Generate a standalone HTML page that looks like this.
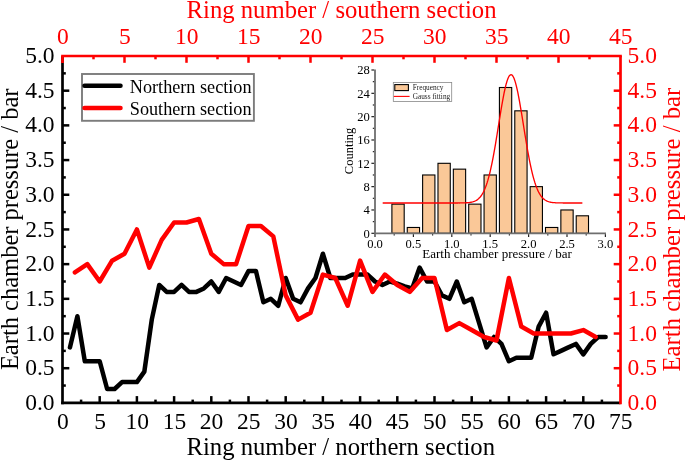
<!DOCTYPE html>
<html><head><meta charset="utf-8"><style>html,body{margin:0;padding:0;background:#fff;}svg{display:block;will-change:transform;font-family:'Liberation Serif',serif;}</style></head>
<body>
<svg width="685" height="460" viewBox="0 0 685 460">
<rect width="685" height="460" fill="#fff"/>
<rect x="391.90" y="204.14" width="12.29" height="29.16" fill="#FAC898" stroke="#000" stroke-width="1.1"/>
<rect x="407.26" y="227.47" width="12.29" height="5.83" fill="#FAC898" stroke="#000" stroke-width="1.1"/>
<rect x="422.62" y="174.98" width="12.29" height="58.32" fill="#FAC898" stroke="#000" stroke-width="1.1"/>
<rect x="437.98" y="163.31" width="12.29" height="69.99" fill="#FAC898" stroke="#000" stroke-width="1.1"/>
<rect x="453.34" y="169.15" width="12.29" height="64.15" fill="#FAC898" stroke="#000" stroke-width="1.1"/>
<rect x="468.70" y="204.14" width="12.29" height="29.16" fill="#FAC898" stroke="#000" stroke-width="1.1"/>
<rect x="484.06" y="174.98" width="12.29" height="58.32" fill="#FAC898" stroke="#000" stroke-width="1.1"/>
<rect x="499.42" y="87.50" width="12.29" height="145.80" fill="#FAC898" stroke="#000" stroke-width="1.1"/>
<rect x="514.78" y="110.83" width="12.29" height="122.48" fill="#FAC898" stroke="#000" stroke-width="1.1"/>
<rect x="530.14" y="186.64" width="12.29" height="46.66" fill="#FAC898" stroke="#000" stroke-width="1.1"/>
<rect x="545.50" y="227.47" width="12.29" height="5.83" fill="#FAC898" stroke="#000" stroke-width="1.1"/>
<rect x="560.86" y="209.97" width="12.29" height="23.33" fill="#FAC898" stroke="#000" stroke-width="1.1"/>
<rect x="576.22" y="215.80" width="12.29" height="17.50" fill="#FAC898" stroke="#000" stroke-width="1.1"/>
<polyline points="382.68,202.97 383.45,202.97 384.22,202.97 384.98,202.97 385.75,202.97 386.52,202.97 387.29,202.97 388.06,202.97 388.82,202.97 389.59,202.97 390.36,202.97 391.13,202.97 391.90,202.97 392.66,202.97 393.43,202.97 394.20,202.97 394.97,202.97 395.74,202.97 396.50,202.97 397.27,202.97 398.04,202.97 398.81,202.97 399.58,202.97 400.34,202.97 401.11,202.97 401.88,202.97 402.65,202.97 403.42,202.97 404.18,202.97 404.95,202.97 405.72,202.97 406.49,202.97 407.26,202.97 408.02,202.97 408.79,202.97 409.56,202.97 410.33,202.97 411.10,202.97 411.86,202.97 412.63,202.97 413.40,202.97 414.17,202.97 414.94,202.97 415.70,202.97 416.47,202.97 417.24,202.97 418.01,202.97 418.78,202.97 419.54,202.97 420.31,202.97 421.08,202.97 421.85,202.97 422.62,202.97 423.38,202.97 424.15,202.97 424.92,202.97 425.69,202.97 426.46,202.97 427.22,202.97 427.99,202.97 428.76,202.97 429.53,202.97 430.30,202.97 431.06,202.97 431.83,202.97 432.60,202.97 433.37,202.97 434.14,202.97 434.90,202.97 435.67,202.97 436.44,202.97 437.21,202.97 437.98,202.97 438.74,202.97 439.51,202.97 440.28,202.97 441.05,202.97 441.82,202.97 442.58,202.97 443.35,202.97 444.12,202.97 444.89,202.97 445.66,202.97 446.42,202.97 447.19,202.97 447.96,202.97 448.73,202.97 449.50,202.97 450.26,202.97 451.03,202.97 451.80,202.97 452.57,202.97 453.34,202.97 454.10,202.97 454.87,202.97 455.64,202.97 456.41,202.96 457.18,202.96 457.94,202.96 458.71,202.95 459.48,202.95 460.25,202.94 461.02,202.93 461.78,202.92 462.55,202.91 463.32,202.89 464.09,202.87 464.86,202.84 465.62,202.81 466.39,202.77 467.16,202.72 467.93,202.65 468.70,202.58 469.46,202.49 470.23,202.38 471.00,202.24 471.77,202.09 472.54,201.90 473.30,201.67 474.07,201.41 474.84,201.10 475.61,200.74 476.38,200.31 477.14,199.82 477.91,199.25 478.68,198.59 479.45,197.84 480.22,196.98 480.98,196.00 481.75,194.90 482.52,193.65 483.29,192.26 484.06,190.70 484.82,188.97 485.59,187.06 486.36,184.96 487.13,182.65 487.90,180.14 488.66,177.41 489.43,174.47 490.20,171.31 490.97,167.93 491.74,164.34 492.50,160.54 493.27,156.55 494.04,152.37 494.81,148.03 495.58,143.55 496.34,138.94 497.11,134.24 497.88,129.47 498.65,124.67 499.42,119.87 500.18,115.12 500.95,110.45 501.72,105.90 502.49,101.51 503.26,97.33 504.02,93.39 504.79,89.74 505.56,86.42 506.33,83.45 507.10,80.87 507.86,78.71 508.63,76.99 509.40,75.74 510.17,74.96 510.94,74.67 511.70,74.86 512.47,75.55 513.24,76.71 514.01,78.33 514.78,80.40 515.54,82.90 516.31,85.79 517.08,89.05 517.85,92.64 518.62,96.52 519.38,100.66 520.15,105.01 520.92,109.53 521.69,114.18 522.46,118.92 523.22,123.71 523.99,128.51 524.76,133.29 525.53,138.01 526.30,142.64 527.06,147.15 527.83,151.52 528.60,155.73 529.37,159.76 530.14,163.60 530.90,167.23 531.67,170.65 532.44,173.85 533.21,176.84 533.98,179.61 534.74,182.17 535.51,184.51 536.28,186.66 537.05,188.61 537.82,190.37 538.58,191.96 539.35,193.39 540.12,194.66 540.89,195.79 541.66,196.79 542.42,197.67 543.19,198.45 543.96,199.12 544.73,199.71 545.50,200.22 546.26,200.66 547.03,201.03 547.80,201.35 548.57,201.62 549.34,201.86 550.10,202.05 550.87,202.22 551.64,202.35 552.41,202.47 553.18,202.56 553.94,202.64 554.71,202.70 555.48,202.76 556.25,202.80 557.02,202.83 557.78,202.86 558.55,202.89 559.32,202.90 560.09,202.92 560.86,202.93 561.62,202.94 562.39,202.95 563.16,202.95 563.93,202.96 564.70,202.96 565.46,202.96 566.23,202.97 567.00,202.97 567.77,202.97 568.54,202.97 569.30,202.97 570.07,202.97 570.84,202.97 571.61,202.97 572.38,202.97 573.14,202.97 573.91,202.97 574.68,202.97 575.45,202.97 576.22,202.97 576.98,202.97 577.75,202.97 578.52,202.97 579.29,202.97 580.06,202.97 580.82,202.97 581.59,202.97 582.36,202.97" fill="none" stroke="#f00" stroke-width="1.35"/>
<line x1="375.00" y1="69.40" x2="375.00" y2="234.20" stroke="#6e6e6e" stroke-width="1.8"/>
<line x1="374.10" y1="233.30" x2="606.00" y2="233.30" stroke="#6e6e6e" stroke-width="1.8"/>
<line x1="371.40" y1="233.30" x2="374.10" y2="233.30" stroke="#222" stroke-width="1.2"/>
<text x="369.80" y="237.60" font-size="12.6" text-anchor="end">0</text>
<line x1="372.80" y1="221.64" x2="374.10" y2="221.64" stroke="#222" stroke-width="1.2"/>
<line x1="371.40" y1="209.97" x2="374.10" y2="209.97" stroke="#222" stroke-width="1.2"/>
<text x="369.80" y="214.27" font-size="12.6" text-anchor="end">4</text>
<line x1="372.80" y1="198.31" x2="374.10" y2="198.31" stroke="#222" stroke-width="1.2"/>
<line x1="371.40" y1="186.64" x2="374.10" y2="186.64" stroke="#222" stroke-width="1.2"/>
<text x="369.80" y="190.94" font-size="12.6" text-anchor="end">8</text>
<line x1="372.80" y1="174.98" x2="374.10" y2="174.98" stroke="#222" stroke-width="1.2"/>
<line x1="371.40" y1="163.31" x2="374.10" y2="163.31" stroke="#222" stroke-width="1.2"/>
<text x="369.80" y="167.61" font-size="12.6" text-anchor="end">12</text>
<line x1="372.80" y1="151.65" x2="374.10" y2="151.65" stroke="#222" stroke-width="1.2"/>
<line x1="371.40" y1="139.99" x2="374.10" y2="139.99" stroke="#222" stroke-width="1.2"/>
<text x="369.80" y="144.29" font-size="12.6" text-anchor="end">16</text>
<line x1="372.80" y1="128.32" x2="374.10" y2="128.32" stroke="#222" stroke-width="1.2"/>
<line x1="371.40" y1="116.66" x2="374.10" y2="116.66" stroke="#222" stroke-width="1.2"/>
<text x="369.80" y="120.96" font-size="12.6" text-anchor="end">20</text>
<line x1="372.80" y1="104.99" x2="374.10" y2="104.99" stroke="#222" stroke-width="1.2"/>
<line x1="371.40" y1="93.33" x2="374.10" y2="93.33" stroke="#222" stroke-width="1.2"/>
<text x="369.80" y="97.63" font-size="12.6" text-anchor="end">24</text>
<line x1="372.80" y1="81.66" x2="374.10" y2="81.66" stroke="#222" stroke-width="1.2"/>
<line x1="371.40" y1="70.00" x2="374.10" y2="70.00" stroke="#222" stroke-width="1.2"/>
<text x="369.80" y="74.30" font-size="12.6" text-anchor="end">28</text>
<line x1="375.00" y1="234.20" x2="375.00" y2="236.90" stroke="#222" stroke-width="1.2"/>
<text x="375.00" y="248.0" font-size="12.6" text-anchor="middle">0.0</text>
<line x1="394.20" y1="234.20" x2="394.20" y2="235.50" stroke="#222" stroke-width="1.2"/>
<line x1="413.40" y1="234.20" x2="413.40" y2="236.90" stroke="#222" stroke-width="1.2"/>
<text x="413.40" y="248.0" font-size="12.6" text-anchor="middle">0.5</text>
<line x1="432.60" y1="234.20" x2="432.60" y2="235.50" stroke="#222" stroke-width="1.2"/>
<line x1="451.80" y1="234.20" x2="451.80" y2="236.90" stroke="#222" stroke-width="1.2"/>
<text x="451.80" y="248.0" font-size="12.6" text-anchor="middle">1.0</text>
<line x1="471.00" y1="234.20" x2="471.00" y2="235.50" stroke="#222" stroke-width="1.2"/>
<line x1="490.20" y1="234.20" x2="490.20" y2="236.90" stroke="#222" stroke-width="1.2"/>
<text x="490.20" y="248.0" font-size="12.6" text-anchor="middle">1.5</text>
<line x1="509.40" y1="234.20" x2="509.40" y2="235.50" stroke="#222" stroke-width="1.2"/>
<line x1="528.60" y1="234.20" x2="528.60" y2="236.90" stroke="#222" stroke-width="1.2"/>
<text x="528.60" y="248.0" font-size="12.6" text-anchor="middle">2.0</text>
<line x1="547.80" y1="234.20" x2="547.80" y2="235.50" stroke="#222" stroke-width="1.2"/>
<line x1="567.00" y1="234.20" x2="567.00" y2="236.90" stroke="#222" stroke-width="1.2"/>
<text x="567.00" y="248.0" font-size="12.6" text-anchor="middle">2.5</text>
<line x1="586.20" y1="234.20" x2="586.20" y2="235.50" stroke="#222" stroke-width="1.2"/>
<line x1="605.40" y1="234.20" x2="605.40" y2="236.90" stroke="#222" stroke-width="1.2"/>
<text x="605.40" y="248.0" font-size="12.6" text-anchor="middle">3.0</text>
<text x="422.3" y="257.8" font-size="13">Earth chamber pressure / bar</text>
<text transform="translate(353,150.9) rotate(-90)" font-size="12.5" text-anchor="middle">Counting</text>
<rect x="393.3" y="82.4" width="58.4" height="19.1" fill="#fff" stroke="#888" stroke-width="0.8"/>
<rect x="394.8" y="84.6" width="13.6" height="6" fill="#FAC898" stroke="#000" stroke-width="1.1"/>
<line x1="393.8" y1="96.4" x2="409.6" y2="96.4" stroke="#f00" stroke-width="1.1"/>
<text x="412.7" y="89.9" font-size="7.3" fill="#222">Frequency</text>
<text x="412.7" y="99.0" font-size="7.3" fill="#222">Gauss fitting</text>
<polyline points="69.94,347.40 77.38,316.17 84.82,361.27 92.26,361.27 99.70,361.27 107.14,389.02 114.58,389.02 122.02,382.09 129.46,382.09 136.90,382.09 144.34,371.68 151.78,319.64 159.22,284.95 166.66,291.89 174.10,291.89 181.54,284.95 188.98,291.89 196.42,291.89 203.86,288.42 211.30,281.49 218.74,291.89 226.18,278.02 233.62,281.49 241.06,284.95 248.50,271.08 255.94,271.08 263.38,302.30 270.82,298.83 278.26,305.77 285.70,278.02 293.14,298.83 300.58,302.30 308.02,288.42 315.46,278.02 322.90,253.73 330.34,278.02 337.78,278.02 345.22,278.02 352.66,274.55 360.10,274.55 367.54,274.55 374.98,281.49 382.42,284.95 389.86,281.49 397.30,283.57 404.74,286.34 412.18,288.42 419.62,267.61 427.06,281.49 434.50,281.49 441.94,295.36 449.38,298.83 456.82,281.49 464.26,302.30 471.70,298.83 479.14,323.11 486.58,347.40 494.02,336.99 501.46,343.93 508.90,361.27 516.34,357.80 523.78,357.80 531.22,357.80 538.66,326.58 546.10,312.71 553.54,354.33 560.98,350.87 568.42,347.40 575.86,343.93 583.30,354.33 590.74,343.93 598.18,336.99 605.62,336.99" fill="none" stroke="#000" stroke-width="4.5" stroke-linejoin="round" stroke-linecap="round"/>
<polyline points="74.90,272.47 87.30,264.14 99.70,281.49 112.10,260.67 124.50,253.73 136.90,229.45 149.30,267.61 161.70,239.86 174.10,222.51 186.50,222.51 198.90,219.04 211.30,253.73 223.70,264.14 236.10,264.14 248.50,225.98 260.90,225.98 273.30,236.39 285.70,295.36 298.10,319.64 310.50,312.71 322.90,274.55 335.30,278.02 347.70,305.77 360.10,260.67 372.50,291.89 384.90,274.55 397.30,284.95 409.70,291.89 422.10,278.02 434.50,278.02 446.90,330.05 459.30,323.11 471.70,330.05 484.10,336.99 496.50,340.46 508.90,278.02 521.30,326.58 533.70,333.52 546.10,333.52 558.50,333.52 570.90,333.52 583.30,330.05 595.70,336.99" fill="none" stroke="#f00" stroke-width="4.5" stroke-linejoin="round" stroke-linecap="round"/>
<text x="62.80" y="428.8" font-size="23.5" text-anchor="middle">0</text>
<line x1="81.10" y1="402.90" x2="81.10" y2="399.60" stroke="#000" stroke-width="2.5"/>
<line x1="99.70" y1="402.90" x2="99.70" y2="396.10" stroke="#000" stroke-width="2.5"/>
<text x="100.00" y="428.8" font-size="23.5" text-anchor="middle">5</text>
<line x1="118.30" y1="402.90" x2="118.30" y2="399.60" stroke="#000" stroke-width="2.5"/>
<line x1="136.90" y1="402.90" x2="136.90" y2="396.10" stroke="#000" stroke-width="2.5"/>
<text x="137.20" y="428.8" font-size="23.5" text-anchor="middle">10</text>
<line x1="155.50" y1="402.90" x2="155.50" y2="399.60" stroke="#000" stroke-width="2.5"/>
<line x1="174.10" y1="402.90" x2="174.10" y2="396.10" stroke="#000" stroke-width="2.5"/>
<text x="174.40" y="428.8" font-size="23.5" text-anchor="middle">15</text>
<line x1="192.70" y1="402.90" x2="192.70" y2="399.60" stroke="#000" stroke-width="2.5"/>
<line x1="211.30" y1="402.90" x2="211.30" y2="396.10" stroke="#000" stroke-width="2.5"/>
<text x="211.60" y="428.8" font-size="23.5" text-anchor="middle">20</text>
<line x1="229.90" y1="402.90" x2="229.90" y2="399.60" stroke="#000" stroke-width="2.5"/>
<line x1="248.50" y1="402.90" x2="248.50" y2="396.10" stroke="#000" stroke-width="2.5"/>
<text x="248.80" y="428.8" font-size="23.5" text-anchor="middle">25</text>
<line x1="267.10" y1="402.90" x2="267.10" y2="399.60" stroke="#000" stroke-width="2.5"/>
<line x1="285.70" y1="402.90" x2="285.70" y2="396.10" stroke="#000" stroke-width="2.5"/>
<text x="286.00" y="428.8" font-size="23.5" text-anchor="middle">30</text>
<line x1="304.30" y1="402.90" x2="304.30" y2="399.60" stroke="#000" stroke-width="2.5"/>
<line x1="322.90" y1="402.90" x2="322.90" y2="396.10" stroke="#000" stroke-width="2.5"/>
<text x="323.20" y="428.8" font-size="23.5" text-anchor="middle">35</text>
<line x1="341.50" y1="402.90" x2="341.50" y2="399.60" stroke="#000" stroke-width="2.5"/>
<line x1="360.10" y1="402.90" x2="360.10" y2="396.10" stroke="#000" stroke-width="2.5"/>
<text x="360.40" y="428.8" font-size="23.5" text-anchor="middle">40</text>
<line x1="378.70" y1="402.90" x2="378.70" y2="399.60" stroke="#000" stroke-width="2.5"/>
<line x1="397.30" y1="402.90" x2="397.30" y2="396.10" stroke="#000" stroke-width="2.5"/>
<text x="397.60" y="428.8" font-size="23.5" text-anchor="middle">45</text>
<line x1="415.90" y1="402.90" x2="415.90" y2="399.60" stroke="#000" stroke-width="2.5"/>
<line x1="434.50" y1="402.90" x2="434.50" y2="396.10" stroke="#000" stroke-width="2.5"/>
<text x="434.80" y="428.8" font-size="23.5" text-anchor="middle">50</text>
<line x1="453.10" y1="402.90" x2="453.10" y2="399.60" stroke="#000" stroke-width="2.5"/>
<line x1="471.70" y1="402.90" x2="471.70" y2="396.10" stroke="#000" stroke-width="2.5"/>
<text x="472.00" y="428.8" font-size="23.5" text-anchor="middle">55</text>
<line x1="490.30" y1="402.90" x2="490.30" y2="399.60" stroke="#000" stroke-width="2.5"/>
<line x1="508.90" y1="402.90" x2="508.90" y2="396.10" stroke="#000" stroke-width="2.5"/>
<text x="509.20" y="428.8" font-size="23.5" text-anchor="middle">60</text>
<line x1="527.50" y1="402.90" x2="527.50" y2="399.60" stroke="#000" stroke-width="2.5"/>
<line x1="546.10" y1="402.90" x2="546.10" y2="396.10" stroke="#000" stroke-width="2.5"/>
<text x="546.40" y="428.8" font-size="23.5" text-anchor="middle">65</text>
<line x1="564.70" y1="402.90" x2="564.70" y2="399.60" stroke="#000" stroke-width="2.5"/>
<line x1="583.30" y1="402.90" x2="583.30" y2="396.10" stroke="#000" stroke-width="2.5"/>
<text x="583.60" y="428.8" font-size="23.5" text-anchor="middle">70</text>
<line x1="601.90" y1="402.90" x2="601.90" y2="399.60" stroke="#000" stroke-width="2.5"/>
<text x="620.80" y="428.8" font-size="23.5" text-anchor="middle">75</text>
<text x="62.80" y="44.0" font-size="23.5" text-anchor="middle" fill="#f00">0</text>
<line x1="93.50" y1="56.00" x2="93.50" y2="59.30" stroke="#f00" stroke-width="2.5"/>
<line x1="124.50" y1="56.00" x2="124.50" y2="62.80" stroke="#f00" stroke-width="2.5"/>
<text x="124.80" y="44.0" font-size="23.5" text-anchor="middle" fill="#f00">5</text>
<line x1="155.50" y1="56.00" x2="155.50" y2="59.30" stroke="#f00" stroke-width="2.5"/>
<line x1="186.50" y1="56.00" x2="186.50" y2="62.80" stroke="#f00" stroke-width="2.5"/>
<text x="186.80" y="44.0" font-size="23.5" text-anchor="middle" fill="#f00">10</text>
<line x1="217.50" y1="56.00" x2="217.50" y2="59.30" stroke="#f00" stroke-width="2.5"/>
<line x1="248.50" y1="56.00" x2="248.50" y2="62.80" stroke="#f00" stroke-width="2.5"/>
<text x="248.80" y="44.0" font-size="23.5" text-anchor="middle" fill="#f00">15</text>
<line x1="279.50" y1="56.00" x2="279.50" y2="59.30" stroke="#f00" stroke-width="2.5"/>
<line x1="310.50" y1="56.00" x2="310.50" y2="62.80" stroke="#f00" stroke-width="2.5"/>
<text x="310.80" y="44.0" font-size="23.5" text-anchor="middle" fill="#f00">20</text>
<line x1="341.50" y1="56.00" x2="341.50" y2="59.30" stroke="#f00" stroke-width="2.5"/>
<line x1="372.50" y1="56.00" x2="372.50" y2="62.80" stroke="#f00" stroke-width="2.5"/>
<text x="372.80" y="44.0" font-size="23.5" text-anchor="middle" fill="#f00">25</text>
<line x1="403.50" y1="56.00" x2="403.50" y2="59.30" stroke="#f00" stroke-width="2.5"/>
<line x1="434.50" y1="56.00" x2="434.50" y2="62.80" stroke="#f00" stroke-width="2.5"/>
<text x="434.80" y="44.0" font-size="23.5" text-anchor="middle" fill="#f00">30</text>
<line x1="465.50" y1="56.00" x2="465.50" y2="59.30" stroke="#f00" stroke-width="2.5"/>
<line x1="496.50" y1="56.00" x2="496.50" y2="62.80" stroke="#f00" stroke-width="2.5"/>
<text x="496.80" y="44.0" font-size="23.5" text-anchor="middle" fill="#f00">35</text>
<line x1="527.50" y1="56.00" x2="527.50" y2="59.30" stroke="#f00" stroke-width="2.5"/>
<line x1="558.50" y1="56.00" x2="558.50" y2="62.80" stroke="#f00" stroke-width="2.5"/>
<text x="558.80" y="44.0" font-size="23.5" text-anchor="middle" fill="#f00">40</text>
<line x1="589.50" y1="56.00" x2="589.50" y2="59.30" stroke="#f00" stroke-width="2.5"/>
<text x="620.80" y="44.0" font-size="23.5" text-anchor="middle" fill="#f00">45</text>
<text x="54.6" y="410.00" font-size="23.5" text-anchor="end">0.0</text>
<text x="627.5" y="410.00" font-size="23.5" fill="#f00">0.0</text>
<line x1="62.50" y1="385.55" x2="65.80" y2="385.55" stroke="#000" stroke-width="2.5"/>
<line x1="620.50" y1="385.55" x2="617.20" y2="385.55" stroke="#f00" stroke-width="2.5"/>
<line x1="62.50" y1="368.21" x2="69.30" y2="368.21" stroke="#000" stroke-width="2.5"/>
<line x1="620.50" y1="368.21" x2="613.70" y2="368.21" stroke="#f00" stroke-width="2.5"/>
<text x="54.6" y="375.31" font-size="23.5" text-anchor="end">0.5</text>
<text x="627.5" y="375.31" font-size="23.5" fill="#f00">0.5</text>
<line x1="62.50" y1="350.87" x2="65.80" y2="350.87" stroke="#000" stroke-width="2.5"/>
<line x1="620.50" y1="350.87" x2="617.20" y2="350.87" stroke="#f00" stroke-width="2.5"/>
<line x1="62.50" y1="333.52" x2="69.30" y2="333.52" stroke="#000" stroke-width="2.5"/>
<line x1="620.50" y1="333.52" x2="613.70" y2="333.52" stroke="#f00" stroke-width="2.5"/>
<text x="54.6" y="340.62" font-size="23.5" text-anchor="end">1.0</text>
<text x="627.5" y="340.62" font-size="23.5" fill="#f00">1.0</text>
<line x1="62.50" y1="316.17" x2="65.80" y2="316.17" stroke="#000" stroke-width="2.5"/>
<line x1="620.50" y1="316.17" x2="617.20" y2="316.17" stroke="#f00" stroke-width="2.5"/>
<line x1="62.50" y1="298.83" x2="69.30" y2="298.83" stroke="#000" stroke-width="2.5"/>
<line x1="620.50" y1="298.83" x2="613.70" y2="298.83" stroke="#f00" stroke-width="2.5"/>
<text x="54.6" y="305.93" font-size="23.5" text-anchor="end">1.5</text>
<text x="627.5" y="305.93" font-size="23.5" fill="#f00">1.5</text>
<line x1="62.50" y1="281.49" x2="65.80" y2="281.49" stroke="#000" stroke-width="2.5"/>
<line x1="620.50" y1="281.49" x2="617.20" y2="281.49" stroke="#f00" stroke-width="2.5"/>
<line x1="62.50" y1="264.14" x2="69.30" y2="264.14" stroke="#000" stroke-width="2.5"/>
<line x1="620.50" y1="264.14" x2="613.70" y2="264.14" stroke="#f00" stroke-width="2.5"/>
<text x="54.6" y="271.24" font-size="23.5" text-anchor="end">2.0</text>
<text x="627.5" y="271.24" font-size="23.5" fill="#f00">2.0</text>
<line x1="62.50" y1="246.79" x2="65.80" y2="246.79" stroke="#000" stroke-width="2.5"/>
<line x1="620.50" y1="246.79" x2="617.20" y2="246.79" stroke="#f00" stroke-width="2.5"/>
<line x1="62.50" y1="229.45" x2="69.30" y2="229.45" stroke="#000" stroke-width="2.5"/>
<line x1="620.50" y1="229.45" x2="613.70" y2="229.45" stroke="#f00" stroke-width="2.5"/>
<text x="54.6" y="236.55" font-size="23.5" text-anchor="end">2.5</text>
<text x="627.5" y="236.55" font-size="23.5" fill="#f00">2.5</text>
<line x1="62.50" y1="212.10" x2="65.80" y2="212.10" stroke="#000" stroke-width="2.5"/>
<line x1="620.50" y1="212.10" x2="617.20" y2="212.10" stroke="#f00" stroke-width="2.5"/>
<line x1="62.50" y1="194.76" x2="69.30" y2="194.76" stroke="#000" stroke-width="2.5"/>
<line x1="620.50" y1="194.76" x2="613.70" y2="194.76" stroke="#f00" stroke-width="2.5"/>
<text x="54.6" y="201.86" font-size="23.5" text-anchor="end">3.0</text>
<text x="627.5" y="201.86" font-size="23.5" fill="#f00">3.0</text>
<line x1="62.50" y1="177.41" x2="65.80" y2="177.41" stroke="#000" stroke-width="2.5"/>
<line x1="620.50" y1="177.41" x2="617.20" y2="177.41" stroke="#f00" stroke-width="2.5"/>
<line x1="62.50" y1="160.07" x2="69.30" y2="160.07" stroke="#000" stroke-width="2.5"/>
<line x1="620.50" y1="160.07" x2="613.70" y2="160.07" stroke="#f00" stroke-width="2.5"/>
<text x="54.6" y="167.17" font-size="23.5" text-anchor="end">3.5</text>
<text x="627.5" y="167.17" font-size="23.5" fill="#f00">3.5</text>
<line x1="62.50" y1="142.72" x2="65.80" y2="142.72" stroke="#000" stroke-width="2.5"/>
<line x1="620.50" y1="142.72" x2="617.20" y2="142.72" stroke="#f00" stroke-width="2.5"/>
<line x1="62.50" y1="125.38" x2="69.30" y2="125.38" stroke="#000" stroke-width="2.5"/>
<line x1="620.50" y1="125.38" x2="613.70" y2="125.38" stroke="#f00" stroke-width="2.5"/>
<text x="54.6" y="132.48" font-size="23.5" text-anchor="end">4.0</text>
<text x="627.5" y="132.48" font-size="23.5" fill="#f00">4.0</text>
<line x1="62.50" y1="108.04" x2="65.80" y2="108.04" stroke="#000" stroke-width="2.5"/>
<line x1="620.50" y1="108.04" x2="617.20" y2="108.04" stroke="#f00" stroke-width="2.5"/>
<line x1="62.50" y1="90.69" x2="69.30" y2="90.69" stroke="#000" stroke-width="2.5"/>
<line x1="620.50" y1="90.69" x2="613.70" y2="90.69" stroke="#f00" stroke-width="2.5"/>
<text x="54.6" y="97.79" font-size="23.5" text-anchor="end">4.5</text>
<text x="627.5" y="97.79" font-size="23.5" fill="#f00">4.5</text>
<line x1="62.50" y1="73.35" x2="65.80" y2="73.35" stroke="#000" stroke-width="2.5"/>
<line x1="620.50" y1="73.35" x2="617.20" y2="73.35" stroke="#f00" stroke-width="2.5"/>
<text x="54.6" y="63.10" font-size="23.5" text-anchor="end">5.0</text>
<text x="627.5" y="63.10" font-size="23.5" fill="#f00">5.0</text>
<line x1="62.50" y1="404.25" x2="62.50" y2="56.00" stroke="#000" stroke-width="2.7"/>
<line x1="61.15" y1="402.90" x2="620.50" y2="402.90" stroke="#000" stroke-width="2.7"/>
<line x1="620.50" y1="404.25" x2="620.50" y2="56.00" stroke="#f00" stroke-width="2.7"/>
<line x1="61.15" y1="56.00" x2="621.85" y2="56.00" stroke="#f00" stroke-width="2.7"/>
<line x1="62.50" y1="56.00" x2="62.50" y2="63" stroke="#f00" stroke-width="2.7"/>
<text x="186.5" y="454.8" font-size="24.7">Ring number / northern section</text>
<text x="186.6" y="17.7" font-size="24.7" fill="#f00">Ring number / southern section</text>
<text transform="translate(17.8,370.1) rotate(-90)" font-size="24.5">Earth chamber pressure / bar</text>
<text transform="translate(680.3,371.5) rotate(-90)" font-size="24.7" fill="#f00">Earth chamber pressure / bar</text>
<rect x="82.0" y="74.0" width="171.9" height="46.8" fill="#fff" stroke="#7c7c7c" stroke-width="1.9"/>
<line x1="84.5" y1="85.7" x2="120.5" y2="85.7" stroke="#000" stroke-width="4.5" stroke-linecap="round"/>
<line x1="84.5" y1="107.9" x2="120.5" y2="107.9" stroke="#f00" stroke-width="4.5" stroke-linecap="round"/>
<text x="129.8" y="92.7" font-size="18.2">Northern section</text>
<text x="129.8" y="114.6" font-size="18.2">Southern section</text>
</svg>
</body></html>
